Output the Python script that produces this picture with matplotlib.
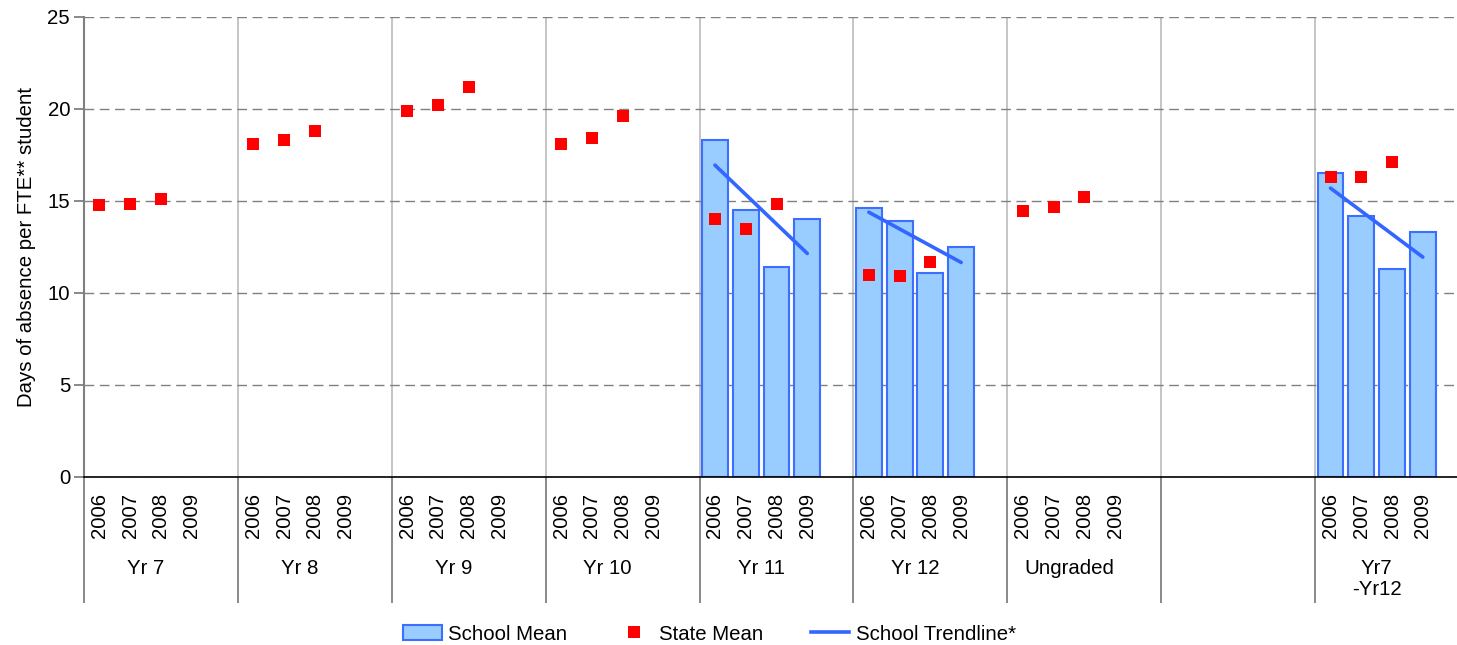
import numpy as np
import matplotlib
matplotlib.use("Agg")
import matplotlib.pyplot as plt
from matplotlib.patches import Patch
from matplotlib.lines import Line2D

plt.rcParams['font.family'] = ['Liberation Sans', 'DejaVu Sans']

nan = np.nan
groups = ['Yr 7', 'Yr 8', 'Yr 9', 'Yr 10', 'Yr 11', 'Yr 12', 'Ungraded', '', 'Yr7\n-Yr12']
years = ['2006', '2007', '2008', '2009']

# one row per group, one column per year
school_mean = [
    [nan, nan, nan, nan],
    [nan, nan, nan, nan],
    [nan, nan, nan, nan],
    [nan, nan, nan, nan],
    [18.3, 14.5, 11.4, 14.0],
    [14.6, 13.9, 11.1, 12.5],
    [nan, nan, nan, nan],
    [nan, nan, nan, nan],
    [16.5, 14.2, 11.3, 13.3],
]
state_mean = [
    [14.8, 14.85, 15.1, nan],
    [18.1, 18.3, 18.8, nan],
    [19.9, 20.2, 21.2, nan],
    [18.1, 18.4, 19.6, nan],
    [14.0, 13.5, 14.85, nan],
    [11.0, 10.9, 11.7, nan],
    [14.45, 14.65, 15.2, nan],
    [nan, nan, nan, nan],
    [16.3, 16.3, 17.1, nan],
]

W, H = 1457, 645
fig = plt.figure(figsize=(W / 100, H / 100), dpi=100)
ax = fig.add_axes([84 / W, (H - 477) / H, (1469 - 84) / W, 460 / H])

fs = 14.7
slot = 5  # four years plus one empty slot per group
bar_c = '#99CCFF'
edge_c = '#3D6FFF'
trend_c = '#3366FF'

for g in range(len(groups)):
    xs = np.arange(4) + g * slot
    sm = np.array(school_mean[g], dtype=float)
    st = np.array(state_mean[g], dtype=float)
    ok = ~np.isnan(sm)
    if ok.any():
        ax.bar(xs[ok], sm[ok], width=0.84, color=bar_c, edgecolor=edge_c,
               linewidth=1.5, zorder=2)
        p = np.polyfit(np.arange(4)[ok], sm[ok], 1)
        ax.plot(xs[ok][[0, -1]], np.polyval(p, np.arange(4)[ok][[0, -1]]),
                color=trend_c, lw=2.6, solid_capstyle='round', zorder=3)
    ok2 = ~np.isnan(st)
    ax.plot(xs[ok2], st[ok2], 's', color='#FF0000', ms=9, mew=0, zorder=4)
    # year labels and group label below the axis
    if groups[g]:
        for i, yr in enumerate(years):
            ax.text(xs[i], -0.035, yr, rotation=90, ha='center', va='top',
                    fontsize=fs, transform=ax.get_xaxis_transform())
        ax.text(g * slot + 1.5, -0.178, groups[g], ha='center', va='top',
                fontsize=fs, linespacing=1.15, transform=ax.get_xaxis_transform())

ax.set_xlim(-0.5, len(groups) * slot - 0.5)
ax.set_ylim(0, 25)
ax.set_yticks([0, 5, 10, 15, 20, 25])
bounds = np.arange(len(groups) + 1) * slot - 0.5
ax.set_xticks(bounds)
ax.set_xticklabels([])
ax.tick_params(axis='x', length=91, width=1.3, color='#808080', direction='out')
ax.tick_params(axis='y', length=7, width=1.3, color='#808080', labelsize=fs, pad=3)

ax.grid(axis='y', color='#808080', linestyle=(0, (7, 4)), linewidth=1.0, zorder=0)
ax.grid(axis='x', color='#C0C0C0', linestyle='-', linewidth=1.3, zorder=0)
ax.set_axisbelow(True)

for s in ['top', 'right']:
    ax.spines[s].set_visible(False)
ax.spines['left'].set_color('#808080')
ax.spines['left'].set_linewidth(1.5)
ax.spines['bottom'].set_color('#000000')
ax.spines['bottom'].set_linewidth(1.2)

ax.set_ylabel('Days of absence per FTE** student', fontsize=fs, labelpad=8)

handles = [
    Patch(facecolor=bar_c, edgecolor=edge_c, linewidth=1.5),
    Line2D([], [], marker='s', color='#FF0000', ls='none', ms=9, mew=0),
    Line2D([], [], color=trend_c, lw=2.6),
]
fig.legend(handles, ['School Mean', 'State Mean', 'School Trendline*'],
           loc='center', bbox_to_anchor=(0.487, 1 - 634 / H), ncol=3,
           frameon=False, fontsize=fs, handlelength=1.9, handletextpad=0.3,
           columnspacing=2.3)

fig.savefig('out.png', dpi=100)
